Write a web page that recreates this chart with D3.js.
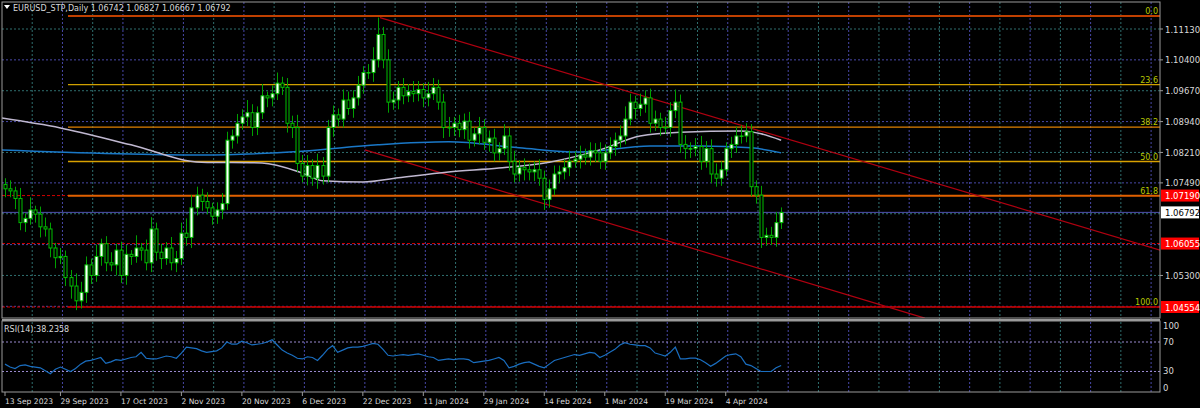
<!DOCTYPE html>
<html>
<head>
<meta charset="utf-8">
<title>EURUSD Daily</title>
<style>
  body { margin: 0; background: #000; }
  svg { display: block; font-family: "DejaVu Sans", sans-serif; }
</style>
</head>
<body>
<svg id="chart"></svg>
<script src="https://d3js.org/d3.v7.min.js"></script>
<script>
// daily closes, 13 Sep 2023 .. 16 Apr 2024
const closes = [
  1.0735,1.0730,1.0712,1.0655,1.0665,1.0685,1.0675,1.0645,1.0640,1.0595,
  1.0572,1.0575,1.0525,1.0505,1.0470,1.0490,1.0555,1.0530,1.0575,1.0605,
  1.0560,1.0555,1.0590,1.0530,1.0580,1.0575,1.0595,1.0590,1.0560,1.0640,
  1.0585,1.0570,1.0595,1.0560,1.0570,1.0630,1.0620,1.0690,1.0720,1.0705,
  1.0690,1.0670,1.0685,1.0700,1.0850,1.0860,1.0890,1.0905,1.0915,1.0880,
  1.0915,1.0955,1.0950,1.0960,1.0985,1.0975,1.0890,1.0880,1.0795,1.0765,
  1.0790,1.0760,1.0790,1.0765,1.0880,1.0910,1.0900,1.0945,1.0925,1.0950,
  1.0980,1.1010,1.1010,1.1040,1.1100,1.1040,1.0940,1.0945,1.0975,1.0955,
  1.0965,1.0960,1.0970,1.0950,1.0960,1.0975,1.0940,1.0880,1.0880,1.0890,
  1.0875,1.0895,1.0850,1.0865,1.0880,1.0845,1.0855,1.0820,1.0830,1.0860,
  1.0800,1.0770,1.0785,1.0780,1.0775,1.0780,1.0760,1.0710,1.0735,1.0770,
  1.0775,1.0785,1.0800,1.0805,1.0815,1.0810,1.0825,1.0820,1.0800,1.0820,
  1.0835,1.0850,1.0860,1.0900,1.0940,1.0925,1.0935,1.0950,1.0890,1.0900,
  1.0880,1.0880,1.0920,1.0940,1.0840,1.0830,1.0830,1.0835,1.0800,1.0830,
  1.0770,1.0760,1.0780,1.0830,1.0840,1.0860,1.0860,1.0870,1.0740,1.0720,
  1.0620,1.0625,1.0620,1.0655,1.0679
];
const firstOpen = 1.0745;
// wick lengths in pips above / below the body
const wickUp = [
  15,20,10,25,12,30,10,18,22,15, 12,20,14,18,30,25,20,15,28,12,
  18,25,15,20,22,10,30,12,25,28, 15,20,14,26,18,25,35,30,20,15,
  22,12,18,25,20,15,22,18,30,20, 15,28,10,20,25,15,22,18,30,20,
  25,15,28,20,18,22,15,25,20,18, 22,15,20,30,40,18,25,20,15,22,
  18,25,20,15,28,22,18,20,25,15, 20,18,22,15,25,20,18,22,15,28,
  20,25,18,22,15,20,25,18,22,20, 15,20,25,18,22,15,20,18,25,20,
  22,18,25,30,20,15,25,18,22,20, 15,25,20,30,18,22,15,20,25,18,
  22,25,20,15,18,22,25,20,18,15, 22,18,20,25,12
];
const wickDn = [
  20,15,25,18,22,15,20,25,18,22, 25,15,20,30,22,18,25,20,15,22,
  20,15,25,18,22,20,15,25,18,22, 20,25,15,18,22,15,20,25,18,22,
  15,20,18,22,15,20,18,15,22,20, 18,15,22,20,15,18,22,25,20,15,
  22,18,25,20,15,22,18,20,15,22, 18,20,15,22,18,20,25,18,22,20,
  15,20,18,22,20,15,18,25,22,20, 18,22,20,15,25,18,22,20,18,15,
  22,20,18,25,20,22,18,25,20,15, 22,18,20,15,22,18,20,22,18,20,
  15,22,18,20,15,25,18,20,22,18, 20,15,22,18,20,25,22,18,20,15,
  22,20,18,15,22,20,18,15,22,20, 25,20,18,22,15
];
const rsi = [
  40,36,34,38,39,37,36,35,31,27, 33,36,33,30,34,40,44,45,47,49,
  41,43,46,45,47,49,50,56,48,47, 47,49,51,50,48,55,63,62,61,58,
  56,57,58,62,70,67,67,71,69,66, 67,68,70,73,66,59,55,52,48,47,
  50,49,45,52,60,65,56,59,62,63, 63,64,66,68,67,60,52,51,52,53,
  52,53,54,52,50,49,45,46,47,46, 47,47,46,42,43,44,45,47,49,45,
  35,37,40,42,43,40,37,35,40,45, 47,49,51,53,52,54,56,55,49,52,
  56,60,66,69,67,66,65,65,62,55, 53,51,56,63,47,47,48,48,46,42,
  37,41,46,51,53,54,50,40,38,34, 30,30,30,35,38.2358
];
// moving averages: [bar index, price]
const maBlue = [[-1,1.0827],[39,1.0815],[59,1.0824],[74,1.0839],[88,1.0846],[102,1.0832],[114,1.0822],[128,1.0836],[138,1.0836],[148,1.0832],[154,1.0820]];
const maGrey = [[-1,1.0903],[11,1.0879],[25,1.0839],[39,1.0798],[51,1.0796],[59,1.0772],[63,1.0754],[71,1.0751],[78,1.0761],[88,1.0775],[98,1.0784],[108,1.0798],[118,1.0827],[126,1.0860],[134,1.0869],[146,1.0872],[154,1.0850]];
// channel lines: [bar index, price]
const chanUpper = [[74.4,1.1140],[229.2,1.0590]];
const chanLower = [[71.4,1.0827],[182.5,1.0429]];
const fibHigh = 1.11437, fibLow = 1.04554;
const fibLevels = [0, 23.6, 38.2, 50, 61.8, 100];
const fibColors = ["#c04000", "#d0a000", "#e08000", "#d8a000", "#e06000", "#c00000"];
const fibLabels = ["0.0", "23.6", "38.2", "50.0", "61.8", "100.0"];
const priceTicks = [1.11130, 1.10400, 1.09670, 1.08940, 1.08210, 1.07490, 1.06760, 1.06030, 1.05300, 1.04570];
const priceLabels = ["1.11130", "1.10400", "1.09670", "1.08940", "1.08210", "1.07490", "", "", "1.05300", ""];
const marks = [
  { p: 1.07190, t: "1.07190", bg: "#ff0000", fg: "#fff" },
  { p: 1.06792, t: "1.06792", bg: "#fff", fg: "#000" },
  { p: 1.06055, t: "1.06055", bg: "#ff0000", fg: "#fff" },
  { p: 1.04554, t: "1.04554", bg: "#ff0000", fg: "#fff" }
];
const dateIdx = [0, 11, 23, 35, 47, 59, 71, 83, 95, 107, 119, 131, 143];
const dateLabels = ["13 Sep 2023", "29 Sep 2023", "17 Oct 2023", "2 Nov 2023", "20 Nov 2023", "6 Dec 2023", "22 Dec 2023", "11 Jan 2024", "29 Jan 2024", "14 Feb 2024", "1 Mar 2024", "19 Mar 2024", "4 Apr 2024"];
const rsiLevels = [70, 30];

const W = 1200, H = 408, L = 2, R = 1160;
const svg = d3.select("#chart").attr("width", W).attr("height", H);
svg.append("rect").attr("width", W).attr("height", H).attr("fill", "#000");

const x = d3.scaleLinear().domain([0, 1]).range([5, 10.04]);
const y = d3.scaleLinear().domain([1.04554, 1.11130]).range([307, 29]);
const ry = d3.scaleLinear().domain([0, 100]).range([393.6, 319.9]);

svg.append("clipPath").attr("id", "clipMain").append("rect").attr("x", L).attr("y", 2).attr("width", R - L).attr("height", 316);
svg.append("clipPath").attr("id", "clipRsi").append("rect").attr("x", L).attr("y", 322).attr("width", R - L).attr("height", 70);

// grid
const gridX = d3.range(5.4, 230, 6);
gridX.forEach((g, k) => {
  svg.append("line").attr("x1", x(g)).attr("x2", x(g)).attr("y1", 2).attr("y2", 392)
    .attr("stroke", k % 2 ? "#4848a8" : "#2f6f6f").attr("stroke-dasharray", "2,2");
});
priceTicks.forEach((p, k) => {
  svg.append("line").attr("x1", L).attr("x2", R).attr("y1", y(p)).attr("y2", y(p))
    .attr("stroke", k % 2 ? "#4848a8" : "#2f6f6f").attr("stroke-dasharray", "2,2");
});
rsiLevels.forEach(v => {
  svg.append("line").attr("x1", L).attr("x2", R).attr("y1", ry(v)).attr("y2", ry(v))
    .attr("stroke", "#9a8ad0").attr("stroke-dasharray", "2,2");
});

const g = svg.append("g").attr("clip-path", "url(#clipMain)");

// horizontal levels
[1.07190, 1.06055, 1.04554].forEach(p => {
  g.append("line").attr("x1", L).attr("x2", R).attr("y1", y(p)).attr("y2", y(p))
    .attr("stroke", "#d00000").attr("stroke-dasharray", "3,2");
});
g.append("line").attr("x1", L).attr("x2", R).attr("y1", y(1.06792)).attr("y2", y(1.06792)).attr("stroke", "#5050b0");

// fibonacci
fibLevels.forEach((lv, k) => {
  const p = fibHigh - lv / 100 * (fibHigh - fibLow);
  g.append("line").attr("x1", 68).attr("x2", R).attr("y1", y(p)).attr("y2", y(p))
    .attr("stroke", fibColors[k]).attr("stroke-width", (k === 0 || k === 4) ? 2 : 1.3);
  g.append("text").attr("x", R - 2).attr("y", y(p) - 2).attr("text-anchor", "end")
    .attr("font-size", 8).attr("fill", "#b8c800").text(fibLabels[k]);
});

// channel
[chanUpper, chanLower].forEach(c => {
  g.append("line").attr("x1", x(c[0][0])).attr("y1", y(c[0][1])).attr("x2", x(c[1][0])).attr("y2", y(c[1][1]))
    .attr("stroke", "#b00010").attr("stroke-width", 1.2);
});

// moving averages
const line = d3.line().x(d => x(d[0])).y(d => y(d[1])).curve(d3.curveMonotoneX);
g.append("path").attr("d", line(maBlue)).attr("fill", "none").attr("stroke", "#1a78c8").attr("stroke-width", 1.5);
g.append("path").attr("d", line(maGrey)).attr("fill", "none").attr("stroke", "#c0b8d0").attr("stroke-width", 1.5);

// candles
closes.forEach((c, i) => {
  const o = i === 0 ? firstOpen : closes[i - 1];
  const hi = Math.max(o, c) + wickUp[i] / 10000;
  const lo = Math.min(o, c) - wickDn[i] / 10000;
  const cx = Math.round(x(i)) + 0.5;
  g.append("line").attr("x1", cx).attr("x2", cx).attr("y1", y(hi)).attr("y2", y(lo)).attr("stroke", "#00a000");
  const top = y(Math.max(o, c)), bot = y(Math.min(o, c));
  g.append("rect").attr("x", cx - 1.5).attr("y", top).attr("width", 3).attr("height", Math.max(bot - top, 0.5))
    .attr("fill", c >= o ? "#fff" : "#000").attr("stroke", "#00c000").attr("stroke-width", 1);
});

// rsi
svg.append("g").attr("clip-path", "url(#clipRsi)").append("path")
  .attr("d", d3.line().x((d, i) => x(i)).y(d => ry(d))(rsi))
  .attr("fill", "none").attr("stroke", "#1a6ec0").attr("stroke-width", 1.2);

// frames
svg.append("rect").attr("x", L).attr("y", 2).attr("width", R - L).attr("height", 316).attr("fill", "none").attr("stroke", "#9a9a9a");
svg.append("rect").attr("x", L).attr("y", 321).attr("width", R - L).attr("height", 71).attr("fill", "none").attr("stroke", "#9a9a9a");
svg.append("line").attr("x1", L).attr("x2", R).attr("y1", 320).attr("y2", 320).attr("stroke", "#9a9a9a").attr("stroke-width", 2);

// price axis labels
priceTicks.forEach((p, k) => {
  if (!priceLabels[k]) return;
  svg.append("line").attr("x1", R).attr("x2", R + 3).attr("y1", y(p)).attr("y2", y(p)).attr("stroke", "#9a9a9a");
  svg.append("text").attr("x", R + 5).attr("y", y(p) + 3.5).attr("font-size", 8.5).attr("fill", "#d8d8d8").text(priceLabels[k]);
});
marks.forEach(m => {
  svg.append("rect").attr("x", R + 1).attr("y", y(m.p) - 6).attr("width", 38).attr("height", 12).attr("fill", m.bg);
  svg.append("text").attr("x", R + 5).attr("y", y(m.p) + 3.5).attr("font-size", 8.5).attr("fill", m.fg).text(m.t);
});
[100, 70, 30, 0].forEach(v => {
  svg.append("text").attr("x", R + 3).attr("y", v === 100 ? 329 : v === 0 ? 391 : ry(v) + 3)
    .attr("font-size", 8.5).attr("fill", "#d8d8d8").text(v);
});

// date axis
dateIdx.forEach((d, k) => {
  svg.append("line").attr("x1", x(d)).attr("x2", x(d)).attr("y1", 392).attr("y2", 396).attr("stroke", "#9a9a9a");
  svg.append("text").attr("x", x(d)).attr("y", 404).attr("font-size", 7.6).attr("fill", "#d8d8d8").text(dateLabels[k]);
});

// headers
svg.append("path").attr("d", "M4,5 L10,5 L7,9 Z").attr("fill", "#fff");
svg.append("text").attr("x", 13).attr("y", 11).attr("font-size", 8).attr("fill", "#d8d8d8")
  .text("EURUSD_STP,Daily  1.06742 1.06827 1.06667 1.06792");
svg.append("text").attr("x", 4).attr("y", 332).attr("font-size", 8).attr("fill", "#d8d8d8").text("RSI(14):38.2358");
</script>
</body>
</html>
